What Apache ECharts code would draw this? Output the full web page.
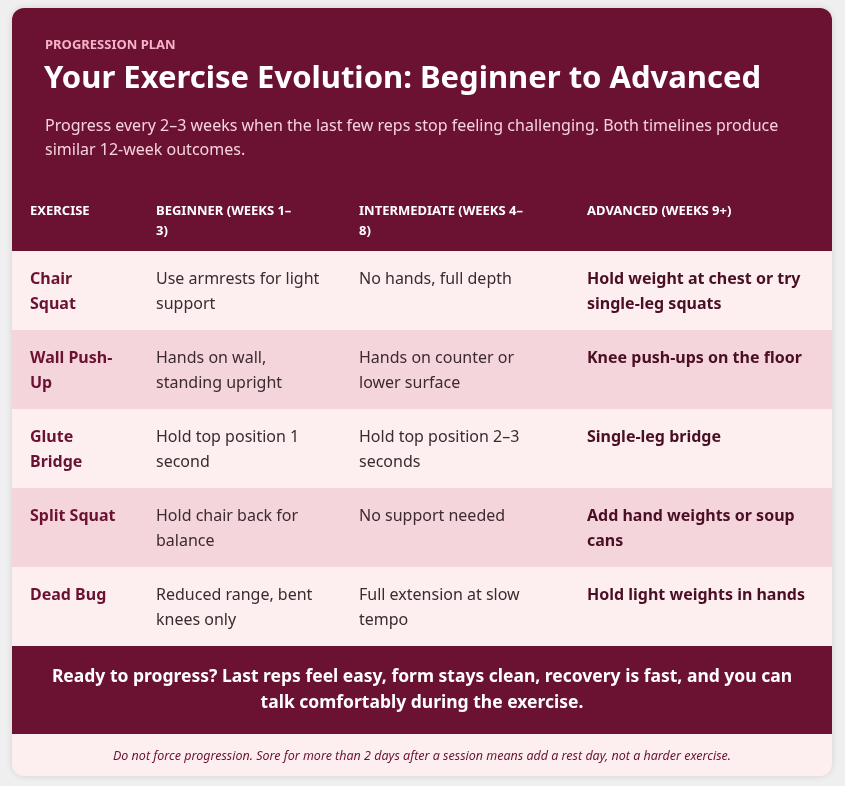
<!DOCTYPE html>
<html><head><meta charset="utf-8">
<script src="https://cdn.jsdelivr.net/npm/echarts@6/dist/echarts.min.js"></script>
<style>html,body{margin:0;padding:0;background:#efefef}#chart{width:845px;height:786px}</style>
</head><body><div id="chart"></div>
<script>
var eyebrow = 'PROGRESSION PLAN';
var title = 'Your Exercise Evolution: Beginner to Advanced';
var subtitle = 'Progress every 2\u20133 weeks when the last few reps stop feeling challenging. Both timelines produce\nsimilar 12-week outcomes.';
var headers = ['EXERCISE', 'BEGINNER (WEEKS 1\u2013\n3)', 'INTERMEDIATE (WEEKS 4\u2013\n8)', 'ADVANCED (WEEKS 9+)'];
var exercises = ['Chair\nSquat', 'Wall Push-\nUp', 'Glute\nBridge', 'Split Squat', 'Dead Bug'];
var beginner = ['Use armrests for light\nsupport', 'Hands on wall,\nstanding upright', 'Hold top position 1\nsecond', 'Hold chair back for\nbalance', 'Reduced range, bent\nknees only'];
var intermediate = ['No hands, full depth', 'Hands on counter or\nlower surface', 'Hold top position 2\u20133\nseconds', 'No support needed', 'Full extension at slow\ntempo'];
var advanced = ['Hold weight at chest or try\nsingle-leg squats', 'Knee push-ups on the floor', 'Single-leg bridge', 'Add hand weights or soup\ncans', 'Hold light weights in hands'];
var callout = 'Ready to progress? Last reps feel easy, form stays clean, recovery is fast, and you can\ntalk comfortably during the exercise.';
var note = 'Do not force progression. Sore for more than 2 days after a session means add a rest day, not a harder exercise.';

var chart = echarts.init(document.getElementById('chart'));
var F = '"Noto Sans", sans-serif';
var maroon = '#6b1232';
var colX = [30, 156, 359, 587];
var rowTop = 251, rowH = 79;
var g = [];
// card
g.push({type:'rect', shape:{x:12,y:8,width:820,height:768,r:12}, style:{fill:'#fdeef0', shadowBlur:6, shadowColor:'rgba(0,0,0,0.12)'}});
g.push({type:'rect', shape:{x:12,y:8,width:820,height:243,r:[12,12,0,0]}, style:{fill:maroon}});
g.push({type:'text', x:45, y:39, style:{text:eyebrow, fill:'#f4b3c6', font:'bold 13px '+F}});
g.push({type:'text', x:44, y:64, style:{text:title, fill:'#ffffff', font:'bold 31px '+F}});
g.push({type:'text', x:45, y:114, style:{text:subtitle, fill:'#f6d3dd', font:'16px '+F, lineHeight:24}});
headers.forEach(function(h, i){
  g.push({type:'text', x:colX[i], y:201, style:{text:h, fill:'#ffffff', font:'bold 13px '+F, lineHeight:20}});
});
var cols = [exercises, beginner, intermediate, advanced];
exercises.forEach(function(_, r){
  var y = rowTop + r*rowH;
  g.push({type:'rect', shape:{x:12,y:y,width:820,height:rowH}, style:{fill: r%2 ? '#f5d5dc' : '#fdeef0'}});
  cols.forEach(function(arr, c){
    var fill = c===0 ? maroon : (c===3 ? '#4a0f24' : '#3b2a30');
    var w = (c===0 || c===3) ? 'bold ' : '';
    g.push({type:'text', x:colX[c], y:y+16, style:{text:arr[r], fill:fill, font:w+'16px '+F, lineHeight:25}});
  });
});
g.push({type:'rect', shape:{x:12,y:646,width:820,height:88}, style:{fill:maroon}});
g.push({type:'text', x:422, y:690, style:{text:callout, fill:'#ffffff', font:'bold 17.5px '+F, lineHeight:26, align:'center', verticalAlign:'middle'}});
g.push({type:'text', x:422, y:756, style:{text:note, fill:'#6b1232', font:'italic 12.5px '+F, align:'center', verticalAlign:'middle'}});
chart.setOption({graphic: g});
</script></body></html>
